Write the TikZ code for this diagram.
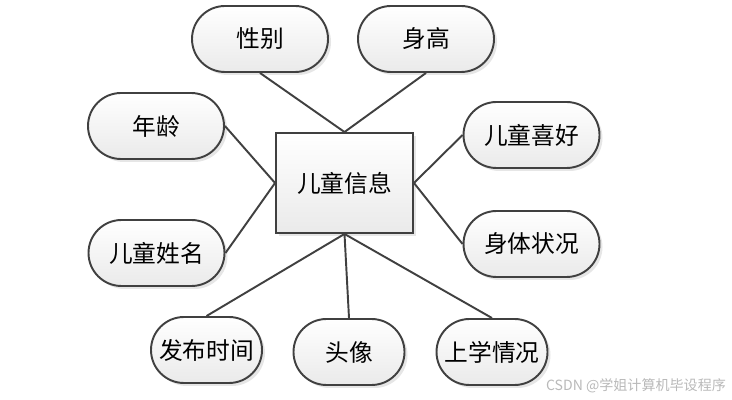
\documentclass[tikz,border=0pt]{standalone}
\usepackage{fontspec}
\setmainfont{Noto Sans CJK SC}
\usepackage{tikz}
\usetikzlibrary{positioning,shadows}
\definecolor{ErLine}{RGB}{64,64,64}
\definecolor{ErFillTop}{RGB}{255,255,255}
\definecolor{ErFillBot}{RGB}{234,234,234}
\definecolor{ErMark}{RGB}{185,185,185}
\tikzset{
  er/attr/.style={
    draw=ErLine,
    line width=1.1pt,
    rounded corners=0.66cm,
    top color=ErFillTop,
    bottom color=ErFillBot,
    drop shadow={shadow xshift=0.06cm,shadow yshift=-0.06cm,opacity=0.2},
    align=center,
    minimum width=2.72cm,
    minimum height=1.32cm,
    font=\fontsize{13.5}{15}\selectfont
  },
  er/narrow/.style={er/attr,minimum width=2.22cm},
  er/entity/.style={
    draw=ErLine,
    line width=1.1pt,
    top color=ErFillTop,
    bottom color=ErFillBot,
    drop shadow={shadow xshift=0.06cm,shadow yshift=-0.06cm,opacity=0.2},
    align=center,
    minimum width=2.74cm,
    minimum height=2.0cm,
    font=\fontsize{13.5}{15}\selectfont
  },
  er/link/.style={line width=1.1pt, draw=ErLine},
  er/mark/.style={font=\fontsize{8}{10}\selectfont, text=ErMark}
}
\begin{document}
\begin{tikzpicture}[x=1cm,y=1cm]
  \useasboundingbox (0,0) rectangle (14.64,8);
  % entity
  \node[er/entity] (info) at (6.89,4.34) {儿童信息};
  % attributes
  \node[er/attr] (sex) at (5.20,7.22) {性别};
  \node[er/attr] (height) at (8.52,7.22) {身高};
  \node[er/attr] (age) at (3.12,5.48) {年龄};
  \node[er/attr] (name) at (3.13,2.94) {儿童姓名};
  \node[er/attr] (hobby) at (10.63,5.30) {儿童喜好};
  \node[er/attr] (health) at (10.63,3.12) {身体状况};
  \node[er/narrow] (time) at (4.13,1.00) {发布时间};
  \node[er/narrow] (photo) at (6.98,0.96) {头像};
  \node[er/narrow] (school) at (9.84,0.96) {上学情况};
  % links
  \draw[er/link] (sex.south) -- (info.north);
  \draw[er/link] (height.south) -- (info.north);
  \draw[er/link] (age.east) -- (info.west);
  \draw[er/link] (name.east) -- (info.west);
  \draw[er/link] (hobby.west) -- (info.east);
  \draw[er/link] (health.west) -- (info.east);
  \draw[er/link] (time.north) -- (info.south);
  \draw[er/link] (photo.north) -- (info.south);
  \draw[er/link] (school.north) -- (info.south);
  \node[er/mark] (mark) at (12.72,0.28) {CSDN @学姐计算机毕设程序};
\end{tikzpicture}
\end{document}
